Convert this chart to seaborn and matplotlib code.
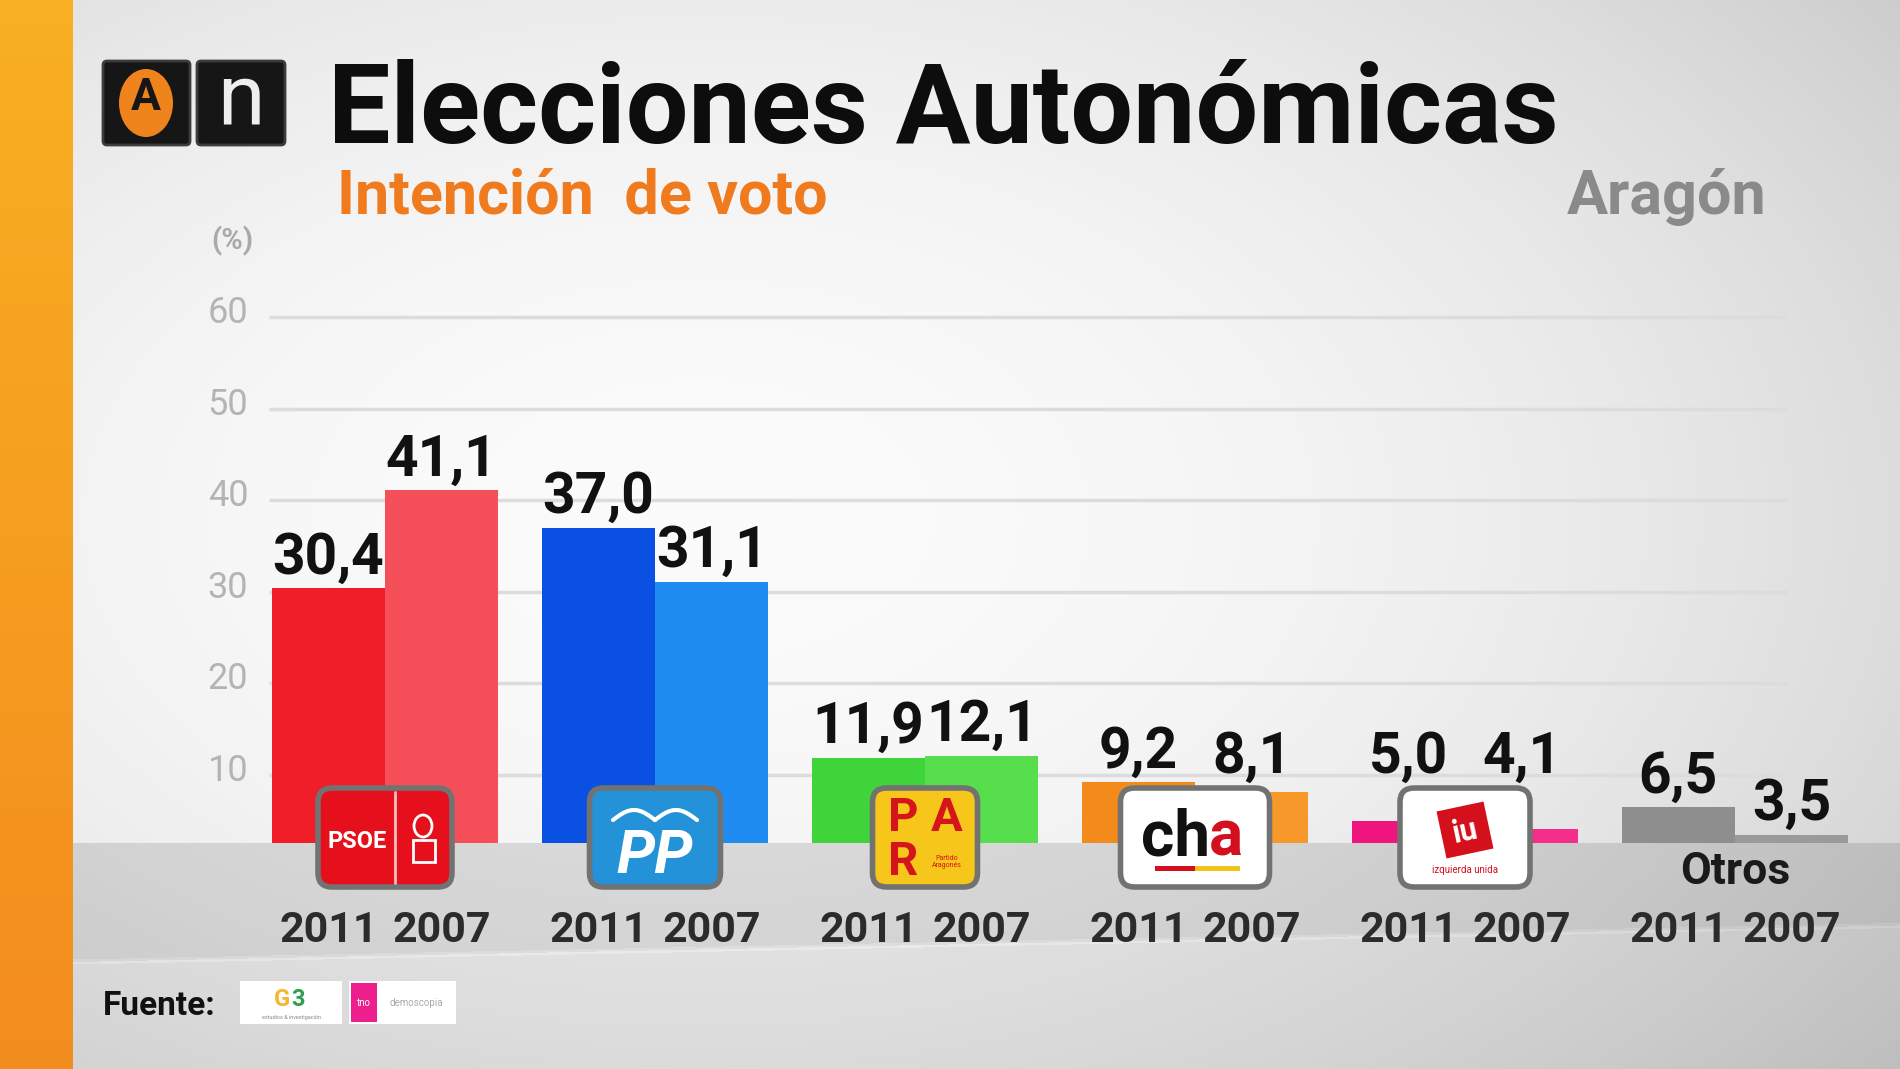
import numpy as np
import pandas as pd
import matplotlib
matplotlib.use("Agg")
import matplotlib.pyplot as plt
import seaborn as sns
from matplotlib.patches import Rectangle, FancyBboxPatch, Ellipse, Polygon
from matplotlib.transforms import ScaledTranslation

# ---------------------------------------------------------------------------
# Data
# ---------------------------------------------------------------------------
parties = ["PSOE", "PP", "PAR", "CHA", "IU", "Otros"]
years = ["2011", "2007"]
votes_2011 = [30.4, 37.0, 11.9, 9.2, 5.0, 6.5]
votes_2007 = [41.1, 31.1, 12.1, 8.1, 4.1, 3.5]
y_ticks = [10, 20, 30, 40, 50, 60]

colors_2011 = ["#F01E28", "#0A50E2", "#3ED43A", "#F28A1C", "#F0157E", "#8E8E8E"]
colors_2007 = ["#F5505A", "#1E8CF0", "#56DE4C", "#F6992A", "#F42E8A", "#9A9A9A"]

# ---------------------------------------------------------------------------
# Layout constants (pixels of the 1900x1069 canvas)
# ---------------------------------------------------------------------------
W, H = 1900, 1069
FLOOR = 843          # top edge of the grey floor
LOGO_TOP = 788       # top edge of the party logos
Y0_PX = 866.6        # pixel row of value 0
PX_PER_UNIT = 9.16   # pixels per percentage point
AX_L, AX_R, AX_T, AX_B = 262, 1880, 280, 900
X0_PX, PX_PER_GROUP = 385, 270

sns.set_theme(style="white")
plt.rcParams['font.family'] = ['Roboto', 'DejaVu Sans']

fig = plt.figure(figsize=(19, 10.69), dpi=100)


def shade(px, py):
    dx = (px - 700) / 1200
    dy = (py - 520) / 560
    v = 0.985 - 0.12 * dx ** 2 - 0.07 * dy ** 2
    edge = 962 - 0.02 * (px - 73)
    v = np.where((py >= FLOOR) & (py < edge), v * 0.885, v)
    v = np.where(py >= edge, v * 0.935, v)
    v = np.where(np.abs(py - edge) < 2.5, v * 1.04, v)
    rgb = np.dstack([v, v, v])
    t = py / H
    strip = px < 73
    orange = np.dstack([0.976 - 0.023 * t, 0.69 - 0.14 * t, 0.133 - 0.015 * t])
    rgb = np.where(strip[..., None], orange, rgb)
    return np.clip(rgb, 0, 1)


xx, yy = np.meshgrid(np.arange(W) + 0.5, np.arange(H) + 0.5)
background = shade(xx, yy)

# background layer
bg = fig.add_axes([0, 0, 1, 1], zorder=0)
bg.set_xlim(0, W)
bg.set_ylim(H, 0)
bg.axis('off')
bg.imshow(background, extent=(0, W, H, 0), aspect='auto', interpolation='bilinear')

# ---------------------------------------------------------------------------
# Bars
# ---------------------------------------------------------------------------
ax = fig.add_axes([AX_L / W, 1 - AX_B / H, (AX_R - AX_L) / W, (AX_B - AX_T) / H], zorder=1)
ax.patch.set_alpha(0)

df = pd.DataFrame({
    'party': parties * 2,
    'year': [years[0]] * len(parties) + [years[1]] * len(parties),
    'votes': votes_2011 + votes_2007,
})
sns.barplot(data=df, x='party', y='votes', hue='year', order=parties, hue_order=years,
            width=0.84, errorbar=None, saturation=1, edgecolor='none', legend=False,
            ax=ax, zorder=2)

ax.set_xlim((AX_L - X0_PX) / PX_PER_GROUP, (AX_R - X0_PX) / PX_PER_GROUP)
ax.set_ylim((Y0_PX - AX_B) / PX_PER_UNIT, (Y0_PX - AX_T) / PX_PER_UNIT)

# value labels: above the bar, or above the logo when the bar is hidden behind it
logo_top_value = (Y0_PX - LOGO_TOP) / PX_PER_UNIT
for container, cols in zip(ax.containers, [colors_2011, colors_2007]):
    for bar in container:
        cx = bar.get_x() + bar.get_width() / 2
        i = int(round(cx))
        bar.set_facecolor(cols[i])
        h = bar.get_height()
        y = h if parties[i] == "Otros" else max(h, logo_top_value)
        ax.annotate(f"{h:.1f}".replace('.', ','), (cx, y), xytext=(0, 2),
                    textcoords='offset points', ha='center', va='bottom',
                    fontsize=41, fontweight='bold', color='#111111', zorder=5)

ax.hlines(y_ticks, (269 - X0_PX) / PX_PER_GROUP, (1787 - X0_PX) / PX_PER_GROUP,
          colors='#dcdcdc', lw=2.5, zorder=1)
ax.set_yticks(y_ticks)
ax.set_yticklabels([str(t) for t in y_ticks], fontsize=26, color='#b4b4b4')
ax.tick_params(axis='y', length=0, pad=10)
ax.set_xticks([])
ax.set_xlabel('')
ax.set_ylabel('')
for s in ax.spines.values():
    s.set_visible(False)
for lab in ax.get_yticklabels():
    lab.set_transform(lab.get_transform() + ScaledTranslation(0, 0.08, fig.dpi_scale_trans))

# ---------------------------------------------------------------------------
# Overlay: floor, logos and texts in pixel coordinates
# ---------------------------------------------------------------------------
ov = fig.add_axes([0, 0, 1, 1], zorder=2)
ov.set_xlim(0, W)
ov.set_ylim(H, 0)
ov.axis('off')

floor_rgba = np.dstack([background, (yy >= FLOOR).astype(float)])
ov.imshow(floor_rgba, extent=(0, W, H, 0), aspect='auto', interpolation='bilinear')

group_px = [ax.transData.transform((i, 0))[0] for i in range(len(parties))]

# year labels under each bar
for container, year in zip(ax.containers, years):
    for bar in container:
        cx = ax.transData.transform((bar.get_x() + bar.get_width() / 2, 0))[0]
        ov.text(cx, 942, year, ha='center', va='baseline', fontsize=31,
                fontweight='bold', color='#2b2b2b')


def logo_box(cx, w, face):
    ov.add_patch(FancyBboxPatch((cx - w / 2, LOGO_TOP), w, 99,
                                boxstyle='round,pad=0,rounding_size=14',
                                fc=face, ec='#727272', lw=4, zorder=3))


# PSOE
cx = group_px[0]
logo_box(cx, 134, '#E5101B')
ov.text(cx - 28, 842, 'PSOE', ha='center', va='center', fontsize=17,
        fontweight='bold', color='white', zorder=4)
ov.plot([cx + 10, cx + 10], [792, 883], color='#f4c0c0', lw=2, zorder=4)
ov.add_patch(Ellipse((cx + 38, 826), 18, 22, fc='none', ec='white', lw=2, zorder=4))
ov.add_patch(Rectangle((cx + 28, 840), 22, 22, fc='none', ec='white', lw=2, zorder=4))

# PP
cx = group_px[1]
logo_box(cx, 131, '#2392D8')
for sgn in (-1, 1):
    t = np.linspace(0, 1, 30)
    ov.plot(cx + sgn * 42 * t, 820 - 10 * np.sin(np.pi * t), color='white', lw=3, zorder=4)
ov.text(cx, 856, 'PP', ha='center', va='center', fontsize=44, fontweight='bold',
        fontstyle='italic', color='white', zorder=4)

# PAR
cx = group_px[2]
logo_box(cx, 105, '#F6C61A')
for dx, dy, ch in [(-22, 818, 'P'), (22, 818, 'A'), (-22, 862, 'R')]:
    ov.text(cx + dx, dy, ch, ha='center', va='center', fontsize=34,
            fontweight='bold', color='#D6141C', zorder=4)
ov.text(cx + 22, 862, 'Partido\nAragonés', ha='center', va='center', fontsize=5,
        color='#D6141C', zorder=4, linespacing=1.0)

# CHA
cx = group_px[3]
logo_box(cx, 149, 'white')
ov.text(cx - 54, 856, 'ch', ha='left', va='baseline', fontsize=46,
        fontweight='bold', color='#111111', zorder=4)
ov.text(cx + 14, 856, 'a', ha='left', va='baseline', fontsize=46,
        fontweight='bold', color='#D4101E', zorder=4)
ov.add_patch(Rectangle((cx - 40, 866), 40, 5, fc='#D4101E', ec='none', zorder=4))
ov.add_patch(Rectangle((cx, 866), 45, 5, fc='#F3C21B', ec='none', zorder=4))

# IU
cx = group_px[4]
logo_box(cx, 130, 'white')
ang = np.deg2rad(-12)
sq = np.array([[-24, -24], [24, -24], [24, 24], [-24, 24]])
rot = np.array([[np.cos(ang), -np.sin(ang)], [np.sin(ang), np.cos(ang)]])
ov.add_patch(Polygon(sq @ rot.T + [cx, 830], closed=True, fc='#D3101C', ec='none', zorder=4))
ov.text(cx, 832, 'iu', ha='center', va='center', fontsize=22, fontweight='bold',
        color='white', rotation=12, zorder=5)
ov.text(cx, 870, 'izquierda unida', ha='center', va='center', fontsize=7,
        color='#D3101C', zorder=4)

# Otros
ov.text(group_px[5], 884, 'Otros', ha='center', va='baseline', fontsize=32,
        fontweight='bold', color='#1a1a1a', zorder=4)

# ---------------------------------------------------------------------------
# Header
# ---------------------------------------------------------------------------
ov.add_patch(FancyBboxPatch((103, 61), 87, 84, boxstyle='round,pad=0,rounding_size=4',
                            fc='#161616', ec='#3c3c3c', lw=2))
ov.add_patch(Ellipse((146, 103), 54, 68, fc='#F0841C', ec='none'))
ov.text(146, 98, 'A', ha='center', va='center', fontsize=32, fontweight='bold',
        color='#161616')
ov.add_patch(FancyBboxPatch((197, 61), 88, 84, boxstyle='round,pad=0,rounding_size=4',
                            fc='#161616', ec='#3c3c3c', lw=2))
ov.text(241, 100, 'n', ha='center', va='center', fontsize=62, color='#eeeeee')

ov.text(328, 143, 'Elecciones Autonómicas', ha='left', va='baseline', fontsize=80,
        fontweight='bold', color='#0d0d0d')
ov.text(337, 214, 'Intención  de voto', ha='left', va='baseline', fontsize=44,
        fontweight='bold', color='#F07B1E')
ov.text(1567, 214, 'Aragón', ha='left', va='baseline', fontsize=44,
        fontweight='bold', color='#8a8a8a')
ov.text(232, 241, '(%)', ha='center', va='center', fontsize=21,
        fontweight='bold', color='#a9a9a9')

# ---------------------------------------------------------------------------
# Source
# ---------------------------------------------------------------------------
ov.text(103, 1015, 'Fuente:', ha='left', va='baseline', fontsize=24,
        fontweight='bold', color='#111111')
ov.add_patch(Rectangle((240, 981), 102, 43, fc='white', ec='none'))
ov.text(282, 1000, 'G', ha='center', va='center', fontsize=17, fontweight='bold', color='#F3B731')
ov.text(298, 1000, '3', ha='center', va='center', fontsize=17, fontweight='bold', color='#2E9F4B')
ov.text(291, 1018, 'estudios & investigación', ha='center', va='center', fontsize=4,
        color='#888888')
ov.add_patch(Rectangle((349, 981), 107, 43, fc='white', ec='none'))
ov.add_patch(Rectangle((351, 983), 26, 39, fc='#EE1E8C', ec='none'))
ov.text(364, 1003, 'tno', ha='center', va='center', fontsize=7, color='white')
ov.text(416, 1003, 'demoscopia', ha='center', va='center', fontsize=7, color='#aaaaaa')

fig.savefig('out.png', dpi=100)
